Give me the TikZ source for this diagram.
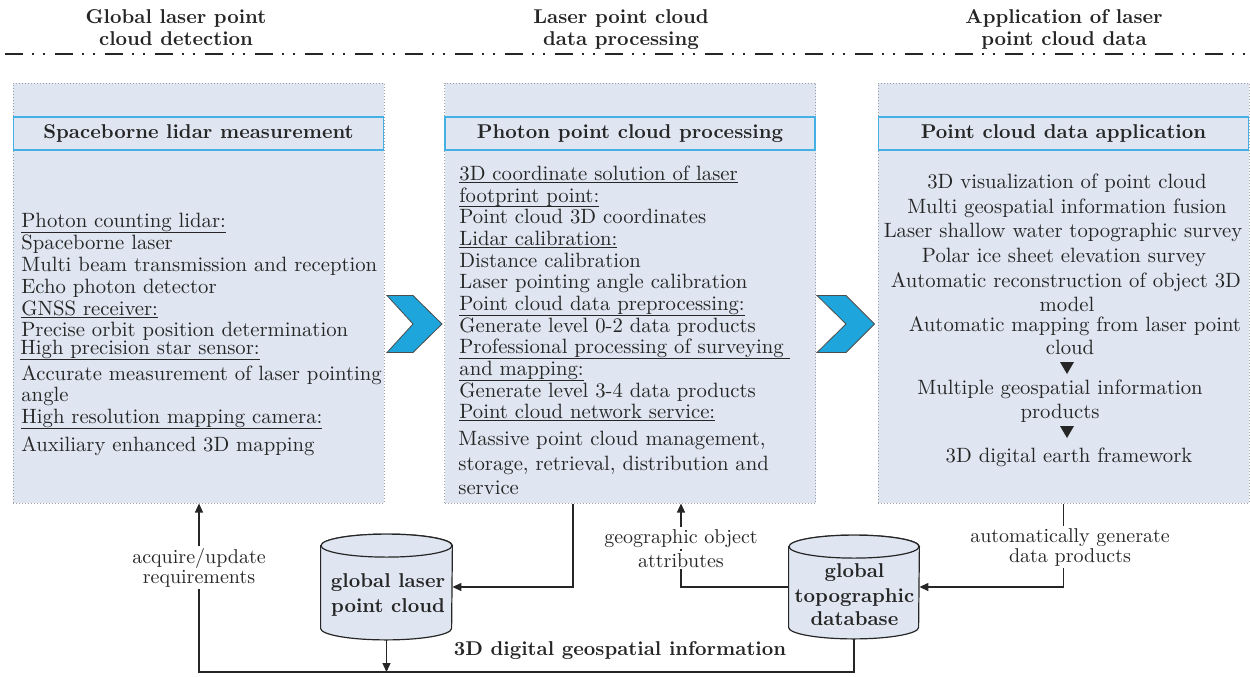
\documentclass[tikz,border=0pt]{standalone}
\usetikzlibrary{arrows.meta}
\definecolor{boxfill}{HTML}{DFE6F1}
\definecolor{titleblue}{HTML}{45B0E3}
\definecolor{chev}{HTML}{1EA6DC}
\definecolor{ink}{HTML}{262626}
\newcommand\myul[1]{\leavevmode\setbox0\hbox{#1}\dimen0=\dp0\advance\dimen0 0.7pt\ifdim\dimen0<1.5pt\dimen0=1.5pt\fi\rlap{\rule[-\dimen0]{\wd0}{0.55pt}}\box0}
\begin{document}
\begin{tikzpicture}[x=0.5pt,y=-0.5pt,
  every node/.style={inner sep=0pt, text=ink, font=\fontsize{10}{12}\selectfont},
  hdr/.style={font=\bfseries\fontsize{10}{12}\selectfont, anchor=base},
  outerbox/.style={draw=gray!75, dash pattern=on 0.5pt off 1pt, line width=0.5pt, fill=boxfill, minimum width=185.5pt, minimum height=210pt},
  ttl/.style={draw=titleblue, line width=0.8pt, fill=boxfill, minimum width=185pt, minimum height=16.5pt, font=\bfseries\fontsize{10}{12}\selectfont},
  ln/.style={anchor=base west, font=\fontsize{10.35}{12}\selectfont},
  cn/.style={anchor=base, font=\fontsize{10.35}{12}\selectfont},
  lbl/.style={anchor=base, fill=white, inner sep=1pt},
  dbtxt/.style={anchor=base, font=\bfseries\fontsize{10}{12}\selectfont},
  conn/.style={draw=ink, line width=0.6pt},
  arr/.style={conn, -{Triangle[length=4.5pt,width=4pt]}},
  chevron/.style={fill=chev, draw=gray!60!black, line width=0.4pt},
  dbshape/.style={fill=boxfill, draw=ink, line width=0.6pt},
  dbbody/.style={minimum height=41pt, minimum width=65.5pt},
]
\useasboundingbox (0,0) rectangle (1250,676);

% headers
\node[hdr] (h1a) at (176,23) {Global laser point};
\node[hdr] (h1b) at (176,45) {cloud detection};
\node[hdr] (h2a) at (621,23) {Laser point cloud};
\node[hdr] (h2b) at (621,45) {data processing};
\node[hdr] (h3a) at (1064,23) {Application of laser};
\node[hdr] (h3b) at (1064,45) {point cloud data};
\coordinate (d0) at (5,54);
\coordinate (d1) at (1250,54);
\draw[ink, line width=1.3pt, dash pattern=on 9pt off 4.5pt on 1pt off 4.5pt on 1pt off 5pt] (d0) -- (d1);

% outer boxes
\node[outerbox] (A) at (198.5,293) {};
\node[outerbox] (B) at (630,293) {};
\node[outerbox] (C) at (1063.5,293) {};
\node[ttl] (TA) at (198.5,133.5) {Spaceborne lidar measurement};
\node[ttl] (TB) at (630,133.5) {Photon point cloud processing};
\node[ttl] (TC) at (1063.5,133.5) {Point cloud data application};

% chevrons
\draw[chevron] (387,295.5) -- (413,295.5) -- (442,324) -- (413,352.5) -- (387,352.5) -- (413,324) -- cycle;
\draw[chevron] (817,295.5) -- (846,295.5) -- (874.5,324) -- (846,352.5) -- (817,352.5) -- (846,324) -- cycle;

% left box text
\node[ln] (l1) at (21,227) {\myul{Photon counting lidar:}};
\node[ln] (l2) at (21,249) {Spaceborne laser};
\node[ln] (l3) at (21,271) {Multi beam transmission and reception};
\node[ln] (l4) at (21,293) {Echo photon detector};
\node[ln] (l5) at (21,315) {\myul{GNSS receiver:}};
\node[ln] (l6) at (21,336) {Precise orbit position determination};
\node[ln] (l7) at (20,354) {\myul{High precision star sensor:}};
\node[ln] (l8) at (21,380) {Accurate measurement of laser pointing};
\node[ln] (l9) at (21,401) {angle};
\node[ln] (l10) at (21,423) {\myul{High resolution mapping camera:}};
\node[ln] (l11) at (21,451) {Auxiliary enhanced 3D mapping};

% middle box text
\node[ln] (m1) at (459,180) {\myul{3D coordinate solution of laser}};
\node[ln] (m2) at (459,202) {\myul{footprint point:}};
\node[ln] (m3) at (459,223) {Point cloud 3D coordinates};
\node[ln] (m4) at (459,245) {\myul{Lidar calibration:}};
\node[ln] (m5) at (459,267) {Distance calibration};
\node[ln] (m6) at (459,288) {Laser pointing angle calibration};
\node[ln] (m7) at (459,310) {\myul{Point cloud data preprocessing:}};
\node[ln] (m8) at (459,332) {Generate level 0-2 data products};
\node[ln] (m9) at (459,353) {\myul{Professional processing of surveying\ }};
\node[ln] (m10) at (459,375) {\myul{and mapping:}};
\node[ln] (m11) at (459,397) {Generate level 3-4 data products};
\node[ln] (m12) at (459,418) {\myul{Point cloud network service:}};
\node[ln] (m13) at (458,445) {Massive point cloud management,};
\node[ln] (m14) at (458,470) {storage, retrieval, distribution and};
\node[ln] (m15) at (458,494) {service};

% right box text
\node[cn] (r1) at (1067,188) {3D visualization of point cloud};
\node[cn] (r2) at (1067,213) {Multi geospatial information fusion};
\node[cn] (r3) at (1063,237) {Laser shallow water topographic survey};
\node[cn] (r4) at (1064,262) {Polar ice sheet elevation survey};
\node[cn] (r5) at (1066,287) {Automatic reconstruction of object 3D};
\node[cn] (r6) at (1067,311) {model};
\node[cn] (r7) at (1075,331) {Automatic mapping from laser point};
\node[cn] (r8) at (1070,354) {cloud};
\fill[ink] (1060,362) -- (1074,362) -- (1067,374) -- cycle;
\node[cn] (r9) at (1060,394) {Multiple geospatial information};
\node[cn] (r10) at (1060,418) {products};
\fill[ink] (1060,426) -- (1074,426) -- (1067,438) -- cycle;
\node[cn] (r11) at (1069,462) {3D digital earth framework};

% databases
\node[dbbody] (cyl1) at (386.5,587) {};
\path[dbshape] (cyl1.north west) -- (cyl1.south west)
  arc[start angle=180, end angle=360, x radius=32.75pt, y radius=5.75pt]
  -- (cyl1.north east)
  arc[start angle=0, end angle=180, x radius=32.75pt, y radius=5.75pt] -- cycle;
\draw[dbshape] (cyl1.north) ellipse [x radius=32.75pt, y radius=5.75pt];
\node[dbbody, minimum width=65pt, minimum height=40pt] (cyl2) at (854,587) {};
\path[dbshape] (cyl2.north west) -- (cyl2.south west)
  arc[start angle=180, end angle=360, x radius=32.5pt, y radius=5.75pt]
  -- (cyl2.north east)
  arc[start angle=0, end angle=180, x radius=32.5pt, y radius=5.75pt] -- cycle;
\draw[dbshape] (cyl2.north) ellipse [x radius=32.5pt, y radius=5.75pt];
\node[dbtxt] (g1) at (388,587) {global laser};
\node[dbtxt] (g2) at (388,612) {point cloud};
\node[dbtxt] (t1) at (854.5,577) {global};
\node[dbtxt] (t2) at (854.5,602) {topographic};
\node[dbtxt] (t3) at (854.5,625) {database};

% connectors
\coordinate (bl) at (199,672);
\coordinate (br) at (854,672);
\draw[arr] ([xshift=64.5pt]B.south west) |- (cyl1.east);
\draw[arr] (cyl2.west) -| ([xshift=118.5pt]B.south west);
\draw[arr] (C.south) |- (cyl2.east);
\draw[arr] ([yshift=-5.75pt]cyl1.south) -- (cyl1.south |- bl);
\draw[arr] ([yshift=-5.75pt]cyl2.south) -- (br) -- (bl) -- (bl |- A.south);

% labels
\node[lbl] (a1) at (199,563) {acquire/update};
\node[lbl] (a2) at (199,583) {requirements};
\node[lbl] (o1) at (681,543) {geographic object};
\node[lbl] (o2) at (681,567) {attributes};
\node[lbl] (p1) at (1070,542) {automatically generate};
\node[lbl] (p2) at (1070,562) {data products};
\node[dbtxt] (dg) at (620,655) {3D digital geospatial information};
\end{tikzpicture}
\end{document}
